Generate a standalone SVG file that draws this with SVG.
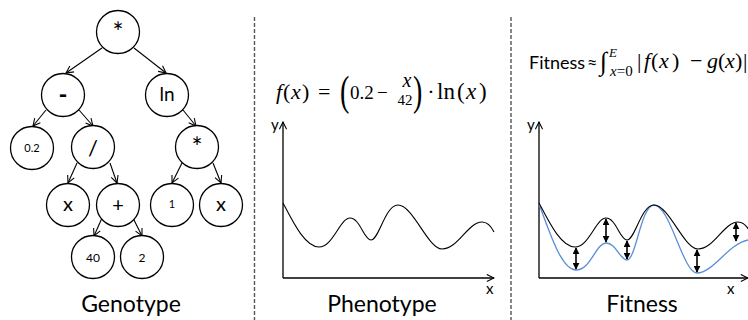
<svg xmlns="http://www.w3.org/2000/svg" width="748" height="320" viewBox="0 0 748 320">
<style>
.node circle{fill:#fff;stroke:#000;stroke-width:1.3}
.lbl{font-family:Lato,"Open Sans",sans-serif;text-anchor:middle;fill:#000}
.big{font-family:Lato,"Open Sans",sans-serif;font-size:23px;text-anchor:middle;fill:#000}
.ax{font-family:Lato,"Open Sans",sans-serif;font-size:15px;fill:#000}
.m{font-family:"Liberation Serif","Times New Roman",serif;fill:#000}
.i{font-style:italic}
.dash{stroke:#555;stroke-width:1.4;stroke-dasharray:4 2;fill:none}
.edge{stroke:#000;stroke-width:1.1;fill:none;marker-end:url(#open)}
.axis{stroke:#000;stroke-width:1.3;fill:none;marker-end:url(#axarr)}
.dbl{stroke:#000;stroke-width:1.6;marker-start:url(#solid);marker-end:url(#solid)}
</style>
<defs>
<marker id="open" viewBox="0 0 10 10" refX="9" refY="5" markerWidth="9" markerHeight="9" orient="auto" markerUnits="userSpaceOnUse">
<path d="M1,1 L9,5 L1,9" fill="none" stroke="#000" stroke-width="1.2"/>
</marker>
<marker id="axarr" viewBox="0 0 10 10" refX="9" refY="5" markerWidth="9" markerHeight="9" orient="auto" markerUnits="userSpaceOnUse">
<path d="M1,1 L9,5 L1,9" fill="none" stroke="#000" stroke-width="1.2"/>
</marker>
<marker id="solid" viewBox="0 0 10 10" refX="9" refY="5" markerWidth="7" markerHeight="7" orient="auto-start-reverse" markerUnits="userSpaceOnUse">
<path d="M0,0 L10,5 L0,10 z" fill="#000"/>
</marker>
</defs>

<rect width="748" height="320" fill="#fff"/>

<!-- separators -->
<line class="dash" x1="254.5" y1="17" x2="254.5" y2="320"/>
<line class="dash" x1="511" y1="17" x2="511" y2="320"/>

<!-- tree connectors -->
<g id="connectors">
<line class="edge" x1="102" y1="48" x2="66" y2="73"/>
<line class="edge" x1="134" y1="48" x2="166" y2="73"/>
<line class="edge" x1="46" y1="110" x2="33" y2="126"/>
<line class="edge" x1="79" y1="110" x2="93" y2="126"/>
<line class="edge" x1="183" y1="110" x2="196" y2="126"/>
<line class="edge" x1="77" y1="163" x2="68" y2="183"/>
<line class="edge" x1="110" y1="163" x2="117" y2="183"/>
<line class="edge" x1="182" y1="163" x2="172" y2="183"/>
<line class="edge" x1="213" y1="163" x2="221" y2="183"/>
<line class="edge" x1="102" y1="218" x2="94" y2="236"/>
<line class="edge" x1="133" y1="218" x2="142" y2="236"/>
</g>

<!-- tree nodes -->
<g id="n-root" class="node"><circle cx="118" cy="32" r="21.5"/><text class="lbl" x="118" y="42" font-size="26">*</text></g>
<g id="n-minus" class="node"><circle cx="63" cy="95" r="21.5"/><text class="lbl" x="63" y="103" font-size="24" font-weight="bold">-</text></g>
<g id="n-ln" class="node"><circle cx="167" cy="95" r="21.5"/><text class="lbl" x="167" y="101" font-size="19">ln</text></g>
<g id="n-02" class="node"><circle cx="32" cy="148" r="21.5"/><text class="lbl" x="32" y="152" font-size="11">0.2</text></g>
<g id="n-div" class="node"><circle cx="93" cy="147" r="21.5"/><text class="lbl" x="93" y="156" font-size="22">/</text></g>
<g id="n-mul" class="node"><circle cx="197" cy="147" r="21.5"/><text class="lbl" x="197" y="157" font-size="26">*</text></g>
<g id="n-x1" class="node"><circle cx="68" cy="205" r="21.5"/><text class="lbl" x="68" y="211" font-size="20">x</text></g>
<g id="n-plus" class="node"><circle cx="118" cy="205" r="21.5"/><text class="lbl" x="118" y="212" font-size="20">+</text></g>
<g id="n-1" class="node"><circle cx="172" cy="205" r="21.5"/><text class="lbl" x="172" y="208" font-size="11">1</text></g>
<g id="n-x2" class="node"><circle cx="221" cy="205" r="21.5"/><text class="lbl" x="221" y="211" font-size="20">x</text></g>
<g id="n-40" class="node"><circle cx="93" cy="257" r="21.5"/><text class="lbl" x="93" y="262" font-size="12">40</text></g>
<g id="n-2" class="node"><circle cx="142" cy="257" r="21.5"/><text class="lbl" x="142" y="262" font-size="12">2</text></g>

<text class="big" x="131" y="312">Genotype</text>

<!-- Phenotype panel -->
<g id="phenotype-eq" class="m" font-size="22">
<text y="99"><tspan x="276" class="i">f</tspan><tspan x="283">(</tspan><tspan x="291" class="i">x</tspan><tspan x="302">)</tspan><tspan x="318">=</tspan></text>
<text transform="translate(340,104.5) scale(1,1.5)" font-size="28">(</text>
<text y="99" font-size="19"><tspan x="350">0.2</tspan><tspan x="377">−</tspan></text>
<text x="407" y="87" font-size="20" text-anchor="middle" class="i">x</text>
<text x="405" y="105" font-size="15" text-anchor="middle">42</text>
<text transform="translate(413,104.5) scale(1,1.5)" font-size="28">)</text>
<text x="431" y="99" text-anchor="middle">·</text>
<text y="99" font-size="23"><tspan x="437">ln</tspan><tspan x="457">(</tspan><tspan x="466" class="i">x</tspan><tspan x="479">)</tspan></text>
</g>
<g id="phenotype-plot">
<path class="axis" d="M283,278 L283,122"/>
<path class="axis" d="M283,278 L494,278"/>
<text class="ax" x="271" y="130">y</text>
<text class="ax" x="486" y="294">x</text>
<path id="curve" d="M283,203 C293,222 305,247 319,247 C333,247 340,218 350,218 C360,218 364,240 371,240 C379,240 385,205 398,205 C413,205 428,249 442,249 C458,249 468,222 482,222 C488,222 492,228 494,232" fill="none" stroke="#000" stroke-width="1.1"/>
</g>
<text class="big" x="382" y="312">Phenotype</text>

<!-- Fitness panel -->
<g id="fitness-eq">
<text x="529" y="69" font-family="Lato,'Open Sans',sans-serif" font-size="18">Fitness</text>
<text x="587" y="69" font-family="Lato,'Open Sans',sans-serif" font-size="18">≈</text>
<g class="m">
<text x="600" y="70" font-size="26" class="i">∫</text>
<text x="609" y="57" font-size="13" class="i">E</text>
<text x="610" y="76" font-size="15"><tspan class="i">x</tspan>=0</text>
<text y="68" font-size="22"><tspan x="637">|</tspan><tspan x="644" class="i">f</tspan><tspan x="651">(</tspan><tspan x="659" class="i">x</tspan><tspan x="672">)</tspan><tspan x="690">−</tspan><tspan x="707" class="i">g</tspan><tspan x="718">(</tspan><tspan x="725" class="i">x</tspan><tspan x="735">)</tspan><tspan x="743">|</tspan></text>
</g>
</g>
<g id="fitness-plot">
<path class="axis" d="M539,278 L539,122"/>
<path class="axis" d="M539,278 L748,278"/>
<text class="ax" x="527" y="130">y</text>
<text class="ax" x="727" y="294">x</text>
<path d="M539,204 C549,230 561,270 576,270 C591,270 596,243 606,243 C616,243 620,260 627,260 C636,260 641,205 654,205 C670,205 683,273 697,273 C713,273 728,244 748,240" fill="none" stroke="#5a8ed6" stroke-width="1.3"/>
<path d="M539,203 C549,222 561,247 575,247 C589,247 596,218 606,218 C616,218 620,240 627,240 C635,240 641,205 654,205 C669,205 684,249 698,249 C714,249 724,222 738,222 C744,222 748,228 750,232" fill="none" stroke="#000" stroke-width="1.1"/>
<line class="dbl" x1="576" y1="248" x2="576" y2="269"/>
<line class="dbl" x1="606" y1="219" x2="606" y2="242"/>
<line class="dbl" x1="627" y1="241" x2="627" y2="259"/>
<line class="dbl" x1="697" y1="250" x2="697" y2="272"/>
<line class="dbl" x1="736" y1="223" x2="736" y2="241"/>
</g>
<text class="big" x="642" y="312">Fitness</text>
</svg>
